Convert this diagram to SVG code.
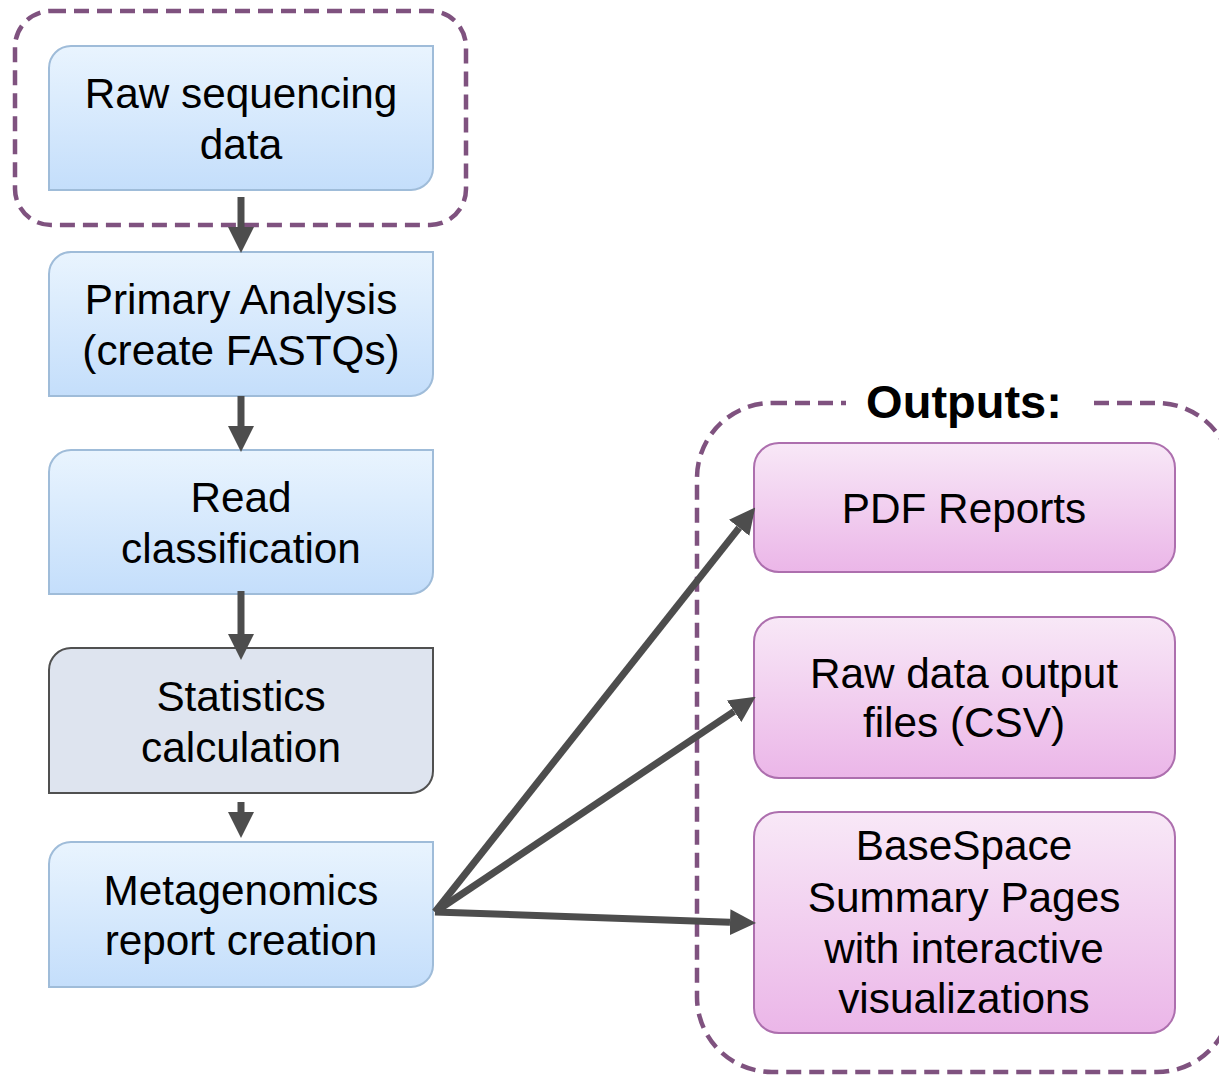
<svg xmlns="http://www.w3.org/2000/svg" width="1219" height="1076" viewBox="0 0 1219 1076">
<defs>
<linearGradient id="gBlue" x1="0" y1="0" x2="0" y2="1">
<stop offset="0" stop-color="#e9f4fe"/>
<stop offset="1" stop-color="#c4defb"/>
</linearGradient>
<linearGradient id="gPink" x1="0" y1="0" x2="0" y2="1">
<stop offset="0" stop-color="#f8e8f7"/>
<stop offset="1" stop-color="#ebb6e8"/>
</linearGradient>
<marker id="ah" markerUnits="userSpaceOnUse" markerWidth="26" markerHeight="26" refX="0" refY="12" orient="auto" viewBox="0 0 24 24">
<path d="M0,0 L24,12 L0,24 Z" fill="#4d4d4d"/>
</marker>
</defs>
<style>
.blue{fill:url(#gBlue);stroke:#9fbcd9;stroke-width:2}
.grey{fill:#dee4ef;stroke:#505050;stroke-width:2}
.pink{fill:url(#gPink);stroke:#ad6fae;stroke-width:2}
.dash{fill:none;stroke:#7f527f;stroke-width:4.5;stroke-dasharray:15 8}
.t{font-family:"Liberation Sans",Arial,sans-serif;font-size:42.3px;fill:#000;text-anchor:middle}
.tb{font-family:"Liberation Sans",Arial,sans-serif;font-size:47px;font-weight:bold;fill:#000;text-anchor:middle}
.c{stroke:#4d4d4d;stroke-width:7;fill:none;marker-end:url(#ah)}
</style>
<rect width="1219" height="1076" fill="#fff"/>

<g id="group-outputs">
<rect class="dash" x="697" y="403" width="535" height="669" rx="75" ry="75"/>
<rect x="846" y="385" width="240" height="40" fill="#fff"/>
<text class="tb" x="964" y="418">Outputs:</text>
</g>

<g id="group-input">
<rect class="dash" x="15" y="11" width="451" height="214" rx="36" ry="36"/>
</g>

<g id="n1">
<path class="blue" d="M71 46 H433 V168 A22 22 0 0 1 411 190 H49 V68 A22 22 0 0 1 71 46 Z"/>
<text class="t" x="241" y="108">Raw sequencing</text>
<text class="t" x="241" y="159">data</text>
</g>
<g id="n2">
<path class="blue" d="M71 252 H433 V374 A22 22 0 0 1 411 396 H49 V274 A22 22 0 0 1 71 252 Z"/>
<text class="t" x="241" y="314">Primary Analysis</text>
<text class="t" x="241" y="365">(create FASTQs)</text>
</g>
<g id="n3">
<path class="blue" d="M71 450 H433 V572 A22 22 0 0 1 411 594 H49 V472 A22 22 0 0 1 71 450 Z"/>
<text class="t" x="241" y="512">Read</text>
<text class="t" x="241" y="563">classification</text>
</g>
<g id="n4">
<path class="grey" d="M71 648 H433 V771 A22 22 0 0 1 411 793 H49 V670 A22 22 0 0 1 71 648 Z"/>
<text class="t" x="241" y="711">Statistics</text>
<text class="t" x="241" y="762">calculation</text>
</g>
<g id="n5">
<path class="blue" d="M71 842 H433 V965 A22 22 0 0 1 411 987 H49 V864 A22 22 0 0 1 71 842 Z"/>
<text class="t" x="241" y="905">Metagenomics</text>
<text class="t" x="241" y="955">report creation</text>
</g>

<g id="o1">
<rect class="pink" x="754" y="443" width="421" height="129" rx="25" ry="25"/>
<text class="t" x="964" y="523">PDF Reports</text>
</g>
<g id="o2">
<rect class="pink" x="754" y="617" width="421" height="161" rx="25" ry="25"/>
<text class="t" x="964" y="688">Raw data output</text>
<text class="t" x="964" y="737">files (CSV)</text>
</g>
<g id="o3">
<rect class="pink" x="754" y="812" width="421" height="221" rx="25" ry="25"/>
<text class="t" x="964" y="860">BaseSpace</text>
<text class="t" x="964" y="912">Summary Pages</text>
<text class="t" x="964" y="963">with interactive</text>
<text class="t" x="964" y="1013">visualizations</text>
</g>

<g id="connectors">
<path class="c" d="M241 197 V227"/>
<path class="c" d="M241 396 V426"/>
<path class="c" d="M241 591 V634"/>
<path class="c" d="M241 802 V812"/>
<path class="c" d="M435 912 L739.1 527.8"/>
<path class="c" d="M435 912 L734.1 711.3"/>
<path class="c" d="M435 912 L730 922.2"/>
</g>
</svg>
